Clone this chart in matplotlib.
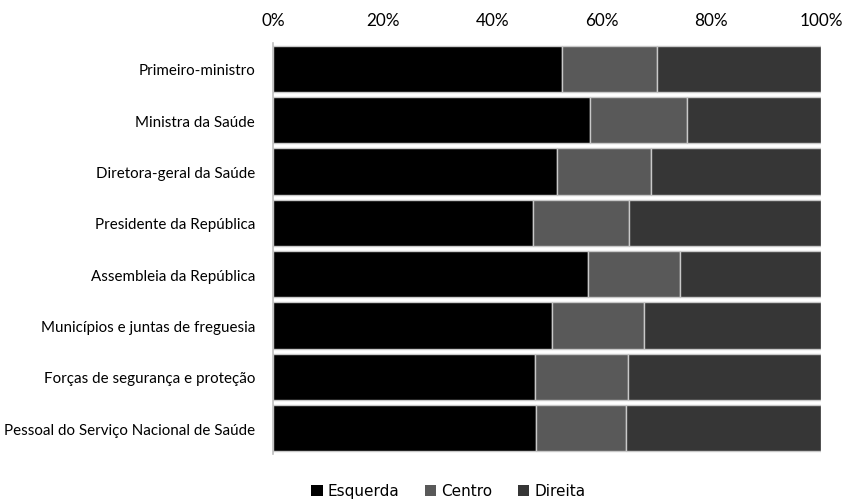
import matplotlib
matplotlib.use("Agg")
import matplotlib.pyplot as plt
import numpy as np

categories = ["Primeiro-ministro", "Ministra da Saúde", "Diretora-geral da Saúde",
              "Presidente da República", "Assembleia da República",
              "Municípios e juntas de freguesia", "Forças de segurança e proteção",
              "Pessoal do Serviço Nacional de Saúde"]
esquerda = [52.7, 57.8, 51.9, 47.4, 57.4, 51.0, 47.9, 48.0]
centro = [17.4, 17.7, 17.0, 17.5, 16.8, 16.7, 16.8, 16.4]
direita = [29.9, 24.5, 31.1, 35.1, 25.8, 32.3, 35.3, 35.6]
series_names = ["Esquerda", "Centro", "Direita"]
colors = ["#000000", "#595959", "#363636"]
xticks = [0, 20, 40, 60, 80, 100]

plt.rcParams['font.family'] = ['Lato', 'DejaVu Sans']

fig = plt.figure(figsize=(8.44, 5.02), dpi=100)
ax = fig.add_axes([273/844, 1-455/502, (821-273)/844, (455-44)/502])

y = np.arange(len(categories))
left = np.zeros(len(categories))
for vals, name, c in zip([esquerda, centro, direita], series_names, colors):
    ax.barh(y, vals, left=left, height=0.9, color=c, edgecolor="#c8c8c8",
            linewidth=1.0, label=name)
    left = left + np.array(vals)

ax.set_xlim(0, 100)
ax.set_ylim(len(categories) - 0.5, -0.5)
ax.set_yticks(y)
ax.set_yticklabels(categories, fontsize=10.9)
ax.set_xticks(xticks)
ax.set_xticklabels([f"{t}%" for t in xticks], fontsize=12.3)
ax.xaxis.tick_top()
ax.tick_params(axis="both", length=0)
ax.tick_params(axis="y", pad=13)
ax.tick_params(axis="x", pad=11)
for s in ["top", "right", "bottom"]:
    ax.spines[s].set_visible(False)
ax.spines["left"].set_color("#bfbfbf")
ax.spines["left"].set_linewidth(1.2)

handles, labels = ax.get_legend_handles_labels()
leg = fig.legend(handles, labels, loc="center", bbox_to_anchor=(0.531, 0.02), ncol=3,
                 frameon=False, prop={"family": "DejaVu Sans", "size": 11},
                 handlelength=0.75, handleheight=0.75, handletextpad=0.3,
                 columnspacing=1.7)
for h in leg.legend_handles:
    h.set_edgecolor("none")

fig.savefig("out.png", dpi=100)
